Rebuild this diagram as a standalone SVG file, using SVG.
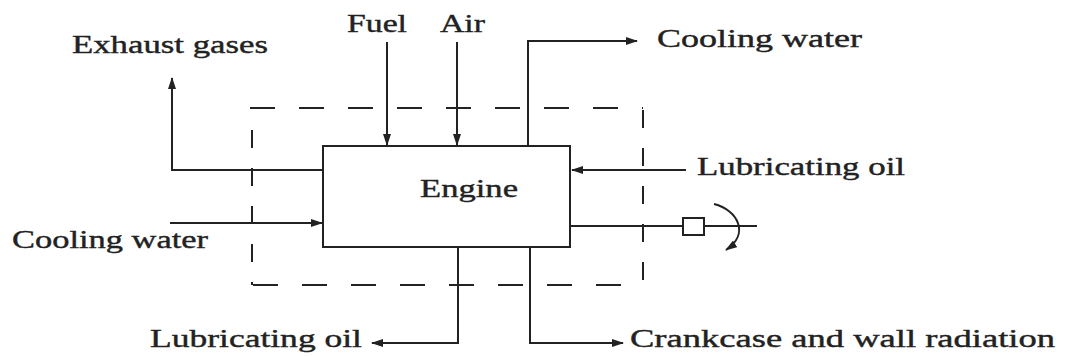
<svg xmlns="http://www.w3.org/2000/svg" width="1065" height="356" viewBox="0 0 1065 356">
<style>
text{font-family:"Liberation Serif","Times New Roman",serif;font-size:26px;fill:#222;stroke:#222;stroke-width:0.4}
.ln{fill:none;stroke:#222;stroke-width:2}
.dh{fill:none;stroke:#222;stroke-width:2;stroke-dasharray:25 24}
.dv{fill:none;stroke:#222;stroke-width:2;stroke-dasharray:18 20}
</style>
<defs>
<marker id="ah" viewBox="0 0 12 8" refX="11" refY="4" markerWidth="12" markerHeight="8" markerUnits="userSpaceOnUse" orient="auto">
<path d="M0,0 L12,4 L0,8 z" fill="#222"/>
</marker>
</defs>
<rect width="1065" height="356" fill="#fff"/>
<g id="boundary">
<line class="dh" x1="250" y1="108" x2="643" y2="108"/>
<line class="dh" x1="253" y1="285" x2="643" y2="285"/>
<line class="dv" x1="252" y1="130" x2="252" y2="285"/>
<line class="dv" x1="643" y1="110" x2="643" y2="285"/>
</g>
<g id="engine">
<rect class="ln" x="323" y="146" width="247" height="101"/>
<text x="420" y="197" textLength="98" lengthAdjust="spacingAndGlyphs">Engine</text>
</g>
<g id="connectors">
<path class="ln" d="M323,170 H172 V78" marker-end="url(#ah)"/>
<path class="ln" d="M387,42 V145" marker-end="url(#ah)"/>
<path class="ln" d="M457,42 V145" marker-end="url(#ah)"/>
<path class="ln" d="M528,146 V41 H637" marker-end="url(#ah)"/>
<path class="ln" d="M686,170 H572" marker-end="url(#ah)"/>
<path class="ln" d="M170,223 H322" marker-end="url(#ah)"/>
<path class="ln" d="M458,247 V343 H372" marker-end="url(#ah)"/>
<path class="ln" d="M530,247 V343 H623" marker-end="url(#ah)"/>
<path class="ln" d="M570,226 H757"/>
<path class="ln" d="M714,204 C738,210 750,234 726,250" marker-end="url(#ah)"/>
</g>
<g id="coupling">
<rect x="683" y="218" width="21" height="17" fill="#fff" stroke="#222" stroke-width="2"/>
</g>
<g id="labels">
<text x="72" y="53" textLength="196" lengthAdjust="spacingAndGlyphs">Exhaust gases</text>
<text x="347" y="32" textLength="60" lengthAdjust="spacingAndGlyphs">Fuel</text>
<text x="440" y="32" textLength="45" lengthAdjust="spacingAndGlyphs">Air</text>
<text x="657" y="47" textLength="205" lengthAdjust="spacingAndGlyphs">Cooling water</text>
<text x="697" y="175" textLength="208" lengthAdjust="spacingAndGlyphs">Lubricating oil</text>
<text x="12" y="248" textLength="196" lengthAdjust="spacingAndGlyphs">Cooling water</text>
<text x="150" y="347" textLength="212" lengthAdjust="spacingAndGlyphs">Lubricating oil</text>
<text x="630" y="347" textLength="425" lengthAdjust="spacingAndGlyphs">Crankcase and wall radiation</text>
</g>
</svg>
